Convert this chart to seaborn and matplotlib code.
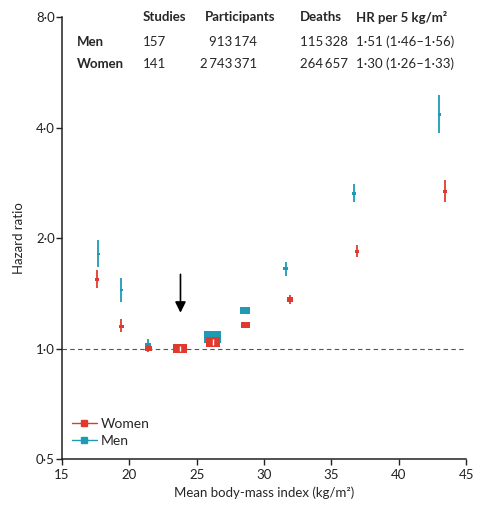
import numpy as np
import pandas as pd
import matplotlib
matplotlib.use('Agg')
import matplotlib.pyplot as plt
from matplotlib.lines import Line2D
from matplotlib.ticker import FixedLocator, FuncFormatter, NullLocator
import seaborn as sns

sns.set_style('ticks')
plt.rcParams['font.family'] = ['Lato', 'DejaVu Sans']

# data
bmi_w = [17.6, 19.4, 21.4, 23.8, 26.2, 28.6, 31.9, 36.9, 43.4]
hr_w = [1.54, 1.15, 1.00, 1.00, 1.04, 1.16, 1.36, 1.84, 2.68]
lo_w = [1.46, 1.11, 0.98, 0.985, 1.02, 1.14, 1.32, 1.77, 2.50]
hi_w = [1.64, 1.20, 1.02, 1.015, 1.06, 1.18, 1.40, 1.92, 2.87]
box_w = [4, 5, 7, 14, 14, 9, 6, 4, 4]

bmi_m = [17.7, 19.4, 21.4, 23.8, 26.2, 28.6, 31.6, 36.7, 43.0]
hr_m = [1.81, 1.44, 1.025, 1.00, 1.076, 1.27, 1.65, 2.65, 4.34]
lo_m = [1.67, 1.34, 0.99, 0.985, 1.05, 1.25, 1.58, 2.50, 3.86]
hi_m = [1.97, 1.56, 1.06, 1.015, 1.10, 1.29, 1.72, 2.80, 4.89]
box_m = [3, 3, 6, 14, 17, 10, 5, 4, 3]

y_ticks = [0.5, 1, 2, 4, 8]
x_ticks = [15, 20, 25, 30, 35, 40, 45]

tbl_cols = ['Studies', 'Participants', 'Deaths', 'HR per 5 kg/m\u00b2']
tbl_rows = ['Men', 'Women']
tbl_studies = ['157', '141']
tbl_part = ['913\u2009174', '2\u2009743\u2009371']
tbl_deaths = ['115\u2009328', '264\u2009657']
tbl_hr = ['1\u00b751 (1\u00b746\u20131\u00b756)', '1\u00b730 (1\u00b726\u20131\u00b733)']

RED = '#e03a2e'
TEAL = '#1f9ab5'

men = pd.DataFrame({'bmi': bmi_m, 'hr': hr_m, 'lo': lo_m, 'hi': hi_m, 'box': box_m, 'sex': 'Men'})
women = pd.DataFrame({'bmi': bmi_w, 'hr': hr_w, 'lo': lo_w, 'hi': hi_w, 'box': box_w, 'sex': 'Women'})
df = pd.concat([men, women], ignore_index=True)
# marker size in points^2 (px -> pt at 100 dpi)
df['s'] = (df['box'] * 0.72) ** 2

fig = plt.figure(figsize=(4.8, 5.09), dpi=100)
ax = fig.add_axes([0.129, 0.0982, 0.842, 0.8684])

ax.axhline(1.0, color='#555555', ls=(0, (4, 3)), lw=0.8, zorder=1)

rect = [(-1, -0.68), (1, -0.68), (1, 0.68), (-1, 0.68), (-1, -0.68)]
pal = {'Men': TEAL, 'Women': RED}

for sex, d in [('Men', men), ('Women', women)]:
    ax.vlines(d['bmi'], d['lo'], d['hi'], color=pal[sex], lw=1.3, zorder=2 if sex == 'Men' else 4)

smin, smax = df['s'].min(), df['s'].max()
sns.scatterplot(data=df[df.sex == 'Men'], x='bmi', y='hr', color=TEAL, size='s',
                sizes=(smin, smax), size_norm=(smin, smax), marker=rect,
                linewidth=0, legend=False, ax=ax, zorder=3)
# the women's boxes sit over the men's
sns.scatterplot(data=df[df.sex == 'Women'], x='bmi', y='hr', color=RED, size='s',
                sizes=(smin, smax), size_norm=(smin, smax), marker=rect,
                linewidth=0, legend=False, ax=ax, zorder=5)

# white CI inside the big boxes
big = women[women['box'] >= 12]
ax.vlines(big['bmi'], big['lo'], big['hi'], color='white', lw=1.0, zorder=6)

# reference arrow
ax.annotate('', xy=(23.8, 1.23), xytext=(23.8, 1.62),
            arrowprops=dict(arrowstyle='-|>', color='black', lw=1.2, mutation_scale=16))

ax.set_yscale('log', base=2)
ax.set_xlim(15, 45)
ax.set_ylim(0.5, 8)
ax.yaxis.set_major_locator(FixedLocator(y_ticks))
ax.yaxis.set_minor_locator(NullLocator())
ax.yaxis.set_major_formatter(FuncFormatter(lambda v, p: f'{v:.1f}'.replace('.', '\u00b7')))
ax.set_xticks(x_ticks)
ax.tick_params(axis='both', direction='out', length=4, width=1, labelsize=9.5, colors='#222222')
ax.tick_params(axis='y', pad=1)
ax.tick_params(axis='x', pad=3)
for side in ['top', 'right']:
    ax.spines[side].set_visible(False)
for side in ['left', 'bottom']:
    ax.spines[side].set_linewidth(1.1)
    ax.spines[side].set_color('#222222')

ax.set_xlabel('Mean body-mass index (kg/m\u00b2)', fontsize=9.5, labelpad=4)
ax.set_ylabel('Hazard ratio', fontsize=9.5, labelpad=8)

# table in the top of the plot
hdr_x = [0.200, 0.354, 0.589, 0.728]
for x, t in zip(hdr_x, tbl_cols):
    ax.text(x, 1.0, t, transform=ax.transAxes, fontsize=9.5, fontweight='bold', va='center', ha='left')
for i, yy in enumerate([0.943, 0.894]):
    ax.text(0.037, yy, tbl_rows[i], transform=ax.transAxes, fontsize=9.5, fontweight='bold', va='center')
    ax.text(0.200, yy, tbl_studies[i], transform=ax.transAxes, fontsize=9.5, va='center')
    ax.text(0.483, yy, tbl_part[i], transform=ax.transAxes, fontsize=9.5, va='center', ha='right')
    ax.text(0.589, yy, tbl_deaths[i], transform=ax.transAxes, fontsize=9.5, va='center')
    ax.text(0.728, yy, tbl_hr[i], transform=ax.transAxes, fontsize=9.5, va='center')

handles = [Line2D([0], [0], color=RED, lw=1, marker='s', markersize=5, label='Women'),
           Line2D([0], [0], color=TEAL, lw=1, marker='s', markersize=5, label='Men')]
ax.legend(handles=handles, loc='lower left', bbox_to_anchor=(0.0, 0.005), borderaxespad=0.3,
          frameon=False, fontsize=10, handlelength=1.8, handletextpad=0.3, labelspacing=0.35)

fig.savefig('out.png', dpi=100)
